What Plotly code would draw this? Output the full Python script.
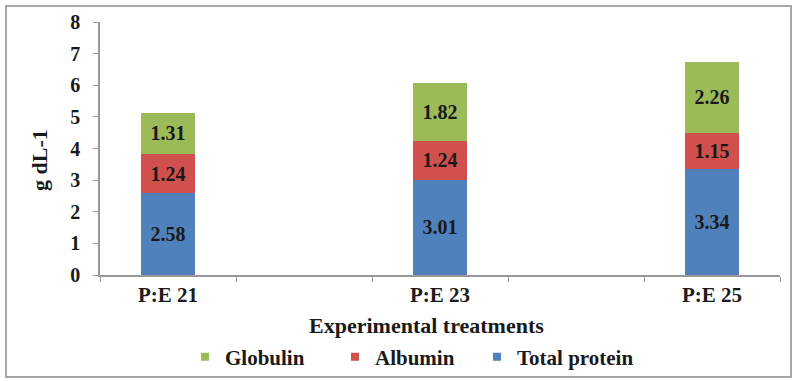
import plotly.graph_objects as go

# Treatments and component concentrations (g dL-1)
treatments = ["P:E 21", "P:E 23", "P:E 25"]
total_protein = [2.58, 3.01, 3.34]
albumin = [1.24, 1.24, 1.15]
globulin = [1.31, 1.82, 2.26]
y_ticks = [0, 1, 2, 3, 4, 5, 6, 7, 8]

# treatments sit on every other slot so the bars are spread out
x_pos = [2 * i for i in range(len(treatments))]

W, H = 797, 381
L, R, T, B = 100, 17, 22, 106
plot_w = W - L - R
plot_h = H - T - B

def px_x(px):
    return (px - L) / plot_w

def px_y(py):
    return (H - B - py) / plot_h

serif = "Liberation Serif, Times New Roman, serif"
txt_col = "#1a1a1a"

series = [
    ("Total protein", total_protein, "#4F81BD"),
    ("Albumin", albumin, "#D0504D"),
    ("Globulin", globulin, "#9BBB59"),
]

fig = go.Figure()
for name, vals, col in series:
    fig.add_trace(go.Bar(
        name=name,
        x=x_pos,
        y=vals,
        width=0.39,
        marker=dict(color=col, line=dict(width=0)),
        text=[f"{v:.2f}" for v in vals],
        textposition="inside",
        insidetextanchor="middle",
        textangle=0,
        textfont=dict(family=serif, size=20, color=txt_col, weight="bold"),
        showlegend=False,
    ))

# one legend box per series so the entries can be spaced freely
legend_ids = ["legend", "legend2", "legend3"]
legend_left_px = [185, 335, 477]
for (name, vals, col), lid in zip(reversed(series), legend_ids):
    fig.add_trace(go.Scatter(
        name=name,
        x=[None], y=[None],
        mode="markers",
        marker=dict(symbol="square", size=8, color=col),
        showlegend=True,
        legend=lid,
    ))

legend_style = dict(
    orientation="h",
    xanchor="left",
    yanchor="middle",
    y=px_y(357),
    font=dict(family=serif, size=21, color=txt_col, weight="bold"),
    itemwidth=30,
    bgcolor="rgba(0,0,0,0)",
)

fig.update_layout(
    width=W, height=H,
    margin=dict(l=L, r=R, t=T, b=B, autoexpand=False),
    barmode="stack",
    plot_bgcolor="white",
    paper_bgcolor="white",
    font=dict(family=serif, color=txt_col, size=17, weight="bold"),
    uniformtext=dict(minsize=10, mode="show"),
    showlegend=True,
    legend=dict(x=px_x(legend_left_px[0]), **legend_style),
    legend2=dict(x=px_x(legend_left_px[1]), **legend_style),
    legend3=dict(x=px_x(legend_left_px[2]), **legend_style),
    xaxis=dict(
        range=[-0.5, 4.5],
        tickmode="array",
        tickvals=x_pos,
        ticktext=treatments,
        ticks="",
        showline=True,
        linecolor="#999999",
        linewidth=1.5,
        showgrid=False,
        zeroline=False,
        tickfont=dict(family=serif, size=21, color=txt_col, weight="bold"),
        minor=dict(
            tickmode="array",
            tickvals=[-0.5, 0.5, 1.5, 2.5, 3.5, 4.5],
            ticks="outside",
            ticklen=5,
            tickcolor="#999999",
            showgrid=False,
        ),
    ),
    yaxis=dict(
        range=[0, 8],
        tickmode="array",
        tickvals=y_ticks,
        ticks="outside",
        ticklen=5,
        tickcolor="#999999",
        showline=True,
        linecolor="#999999",
        linewidth=1.5,
        showgrid=False,
        zeroline=False,
        ticklabelstandoff=9,
        tickfont=dict(family=serif, size=20, color=txt_col, weight="bold"),
    ),
    annotations=[
        dict(
            text="g dL-1", xref="paper", yref="paper",
            x=px_x(39), y=px_y(160), xanchor="center", yanchor="middle",
            textangle=-90, showarrow=False,
            font=dict(family=serif, size=22, color=txt_col, weight="bold"),
        ),
        dict(
            text="Experimental treatments", xref="paper", yref="paper",
            x=px_x(426), y=px_y(325), xanchor="center", yanchor="middle",
            showarrow=False,
            font=dict(family=serif, size=22, color=txt_col, weight="bold"),
        ),
    ],
    shapes=[
        dict(
            type="rect", xref="paper", yref="paper",
            x0=px_x(6), x1=px_x(791), y0=px_y(377), y1=px_y(6),
            line=dict(color="#8c8c8c", width=1.5),
            fillcolor="rgba(0,0,0,0)", layer="below",
        )
    ],
)

fig.write_html("out.html")
